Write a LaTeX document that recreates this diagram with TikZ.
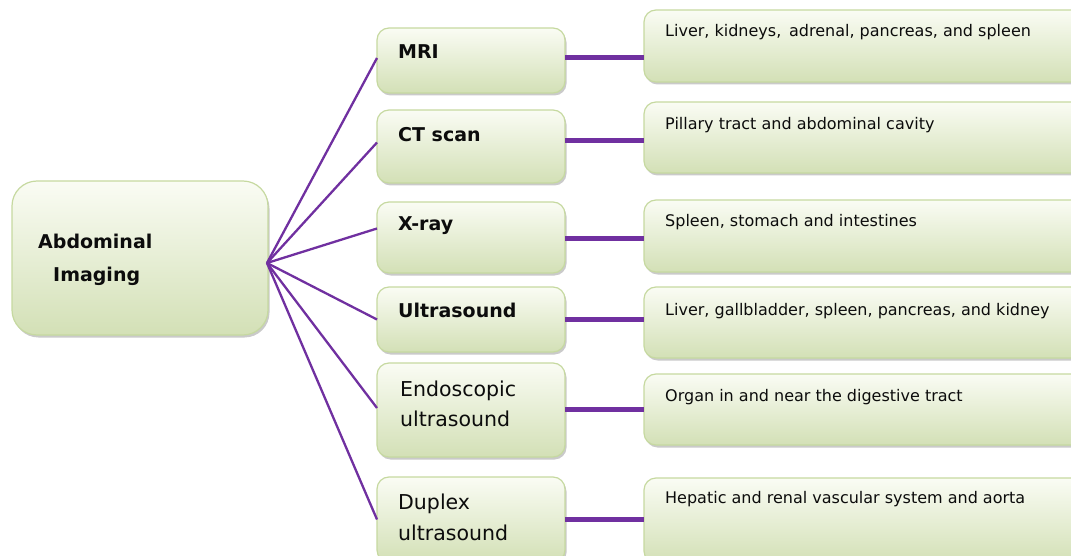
\documentclass[tikz,border=0pt]{standalone}
\usepackage{fontspec}
\setmainfont{DejaVu Sans}
\usetikzlibrary{shadows,calc}
\definecolor{boxtop}{HTML}{FAFCF4}
\definecolor{boxbot}{HTML}{D3E0B6}
\definecolor{boxline}{HTML}{C6D9A0}
\definecolor{conn}{HTML}{7030A0}
\definecolor{txt}{HTML}{0C0C0C}
\begin{document}
\begin{tikzpicture}[x=1pt,y=-1pt,
  box/.style={draw=boxline, line width=1.2pt, rounded corners=12pt, top color=boxtop, bottom color=boxbot,
    drop shadow={shadow xshift=1.5pt, shadow yshift=-2.5pt, opacity=0.35, fill=black!60},
    anchor=north west, inner sep=0pt, outer sep=0pt},
  bigbox/.style={box, rounded corners=25pt},
  lbl/.style={anchor=base west, inner sep=0pt, text=txt},
  boldlbl/.style={lbl, font=\fontsize{19}{22}\selectfont\bfseries},
  twolbl/.style={lbl, font=\fontsize{20.5}{24}\selectfont},
  rlbl/.style={lbl, font=\fontsize{16}{19}\selectfont},
  fan/.style={draw=conn, line width=2.3pt},
  bar/.style={draw=conn, line width=5pt}]
\useasboundingbox (0,0) rectangle (1071,556);
\clip (0,0) rectangle (1071,556);
% main box
\node[bigbox, minimum width=256pt, minimum height=154pt] (A) at (12,181) {};
\node[lbl, font=\fontsize{19}{22}\selectfont\bfseries] (At1) at (38,249) {Abdominal};
\node[lbl, font=\fontsize{19}{22}\selectfont\bfseries] (At2) at (53,281) {Imaging};
% left boxes
\node[box, minimum width=188pt, minimum height=65pt] (mri) at (377,28) {};
\node[box, minimum width=188pt, minimum height=73pt] (ct) at (377,110) {};
\node[box, minimum width=188pt, minimum height=71pt] (xray) at (377,202) {};
\node[box, minimum width=188pt, minimum height=65pt] (us) at (377,287) {};
\node[box, minimum width=188pt, minimum height=94pt] (endo) at (377,363) {};
\node[box, minimum width=188pt, minimum height=85pt] (dup) at (377,477) {};
% right boxes
\node[box, minimum width=440pt, minimum height=72pt] (r1) at (644,10) {};
\node[box, minimum width=440pt, minimum height=71pt] (r2) at (644,102) {};
\node[box, minimum width=440pt, minimum height=72pt] (r3) at (644,200) {};
\node[box, minimum width=440pt, minimum height=71pt] (r4) at (644,287) {};
\node[box, minimum width=440pt, minimum height=71pt] (r5) at (644,374) {};
\node[box, minimum width=440pt, minimum height=85pt] (r6) at (644,478) {};
% left labels
\node[boldlbl] (mriT) at (398,59) {MRI};
\node[boldlbl] (ctT) at (398,142) {CT scan};
\node[boldlbl] (xrayT) at (398,230) {X-ray};
\node[boldlbl] (usT) at (398,317) {Ultrasound};
\node[twolbl] (endoT1) at (400,396) {Endoscopic};
\node[twolbl] (endoT2) at (400,426) {ultrasound};
\node[twolbl] (dupT1) at (398,509) {Duplex};
\node[twolbl] (dupT2) at (398,540) {ultrasound};
% right labels
\node[rlbl] (r1T) at (665,37) {Liver, kidneys, \,adrenal, pancreas, and spleen};
\node[rlbl] (r2T) at (665,130) {Pillary tract and abdominal cavity};
\node[rlbl] (r3T) at (665,227) {Spleen, stomach and intestines};
\node[rlbl] (r4T) at (665,315) {Liver, gallbladder, spleen, pancreas, and kidney};
\node[rlbl] (r5T) at (665,401) {Organ in and near the digestive tract};
\node[rlbl] (r6T) at (665,503) {Hepatic and renal vascular system and aorta};
% fan connectors
\coordinate (hub) at (267,263);
\draw[fan] (hub) -- ([yshift=2.5pt]mri.west);
\draw[fan] (hub) -- ([yshift=4pt]ct.west);
\draw[fan] (hub) -- ([yshift=9pt]xray.west);
\draw[fan] (hub) -- (us.west);
\draw[fan] (hub) -- ([yshift=2pt]endo.west);
\draw[fan] (hub) -- (dup.west);
% horizontal bars
\draw[bar] ([yshift=2.5pt]mri.east) -- ([yshift=2.5pt]mri.east -| r1.west);
\draw[bar] ([yshift=6pt]ct.east) -- ([yshift=6pt]ct.east -| r2.west);
\draw[bar] ([yshift=-1pt]xray.east) -- ([yshift=-1pt]xray.east -| r3.west);
\draw[bar] (us.east) -- (us.east -| r4.west);
\draw[bar] ([yshift=1pt]endo.east) -- ([yshift=1pt]endo.east -| r5.west);
\draw[bar] (dup.east) -- (dup.east -| r6.west);
\end{tikzpicture}
\end{document}
